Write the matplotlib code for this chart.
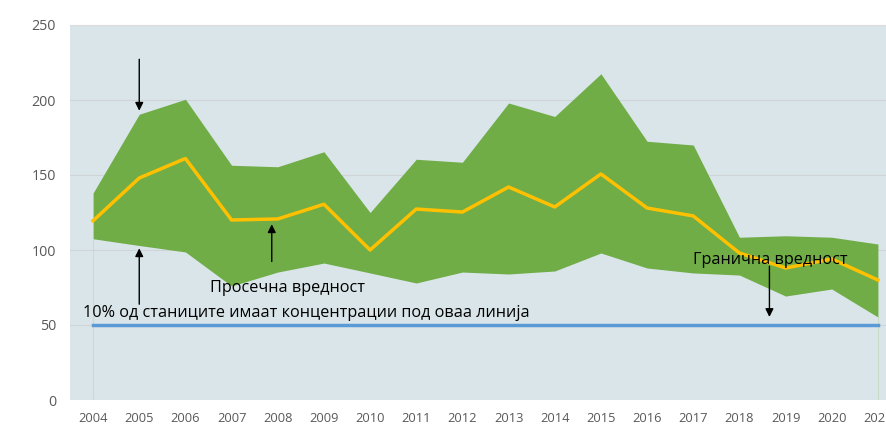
import matplotlib.pyplot as plt

plt.rcParams["font.family"] = ["Open Sans", "DejaVu Sans"]

years = list(range(2004, 2022))
max_vals = [138, 190.5, 200.5, 156.5, 155.5, 165.5, 125, 160.5, 158.5, 198,
            189, 217.5, 172.5, 170, 108.5, 109.5, 108.5, 104]
mean_vals = [119.5, 148, 161, 120, 120.7, 130.5, 100, 127.3, 125.3, 142,
             128.7, 150.7, 128, 122.7, 98, 88, 94, 80]
min_vals = [107.5, 103, 98.7, 76, 85.3, 91.3, 84.7, 78, 85.3, 84,
            86, 98, 88, 84.7, 83.3, 69.3, 74, 55.3]
limit_vals = [50] * len(years)

fig = plt.figure(figsize=(8.87, 4.28), dpi=100)
ax = fig.add_axes([70 / 887, 1 - 400 / 428, 831 / 887, 375 / 428])
ax.set_facecolor("#d9e5e9")

ax.fill_between(years, min_vals, max_vals, color="#70ad47", lw=0, zorder=2)
ax.plot(years, mean_vals, color="#ffc000", lw=2.5, zorder=3)
ax.plot(years, limit_vals, color="#5b9bd5", lw=2.5, zorder=3)
ax.vlines([years[0], years[-1]], 0, [min_vals[0], min_vals[-1]],
          color="#c9dccb", lw=0.8, zorder=1)

ax.set_xlim(2003.5, 2021.5)
ax.set_ylim(0, 250)
ax.set_yticks([0, 50, 100, 150, 200, 250])
ax.set_xticks(years)
ax.grid(axis="y", color="#d0d4d6", lw=0.8, zorder=0)
ax.set_axisbelow(True)
for s in ["left", "right", "bottom"]:
    ax.spines[s].set_visible(False)
ax.spines["top"].set_color("#dcdcdc")
ax.tick_params(length=0, colors="#595959")
ax.tick_params(axis="x", pad=9, labelsize=9.3)
ax.tick_params(axis="y", pad=10, labelsize=10.3)

arrow = dict(arrowstyle="-|>", color="black", lw=1, mutation_scale=12)
ax.annotate("", xy=(2005, 191), xytext=(2005, 229), arrowprops=arrow, zorder=5)
ax.annotate("", xy=(2005, 103), xytext=(2005, 62), arrowprops=arrow, zorder=5)
ax.annotate("", xy=(2007.87, 119), xytext=(2007.87, 90.5), arrowprops=arrow, zorder=5)
ax.annotate("", xy=(2018.65, 53.5), xytext=(2018.65, 91), arrowprops=arrow, zorder=5)

ax.text(2006.53, 74.5, "Просечна вредност", fontsize=11.7, va="center", zorder=6)
ax.text(2003.78, 58, "10% од станиците имаат концентрации под оваа линија",
        fontsize=11.7, va="center", zorder=6)
ax.text(2017.0, 93, "Гранична вредност", fontsize=11.7, va="center", zorder=6)

fig.savefig("out.png", dpi=100)
